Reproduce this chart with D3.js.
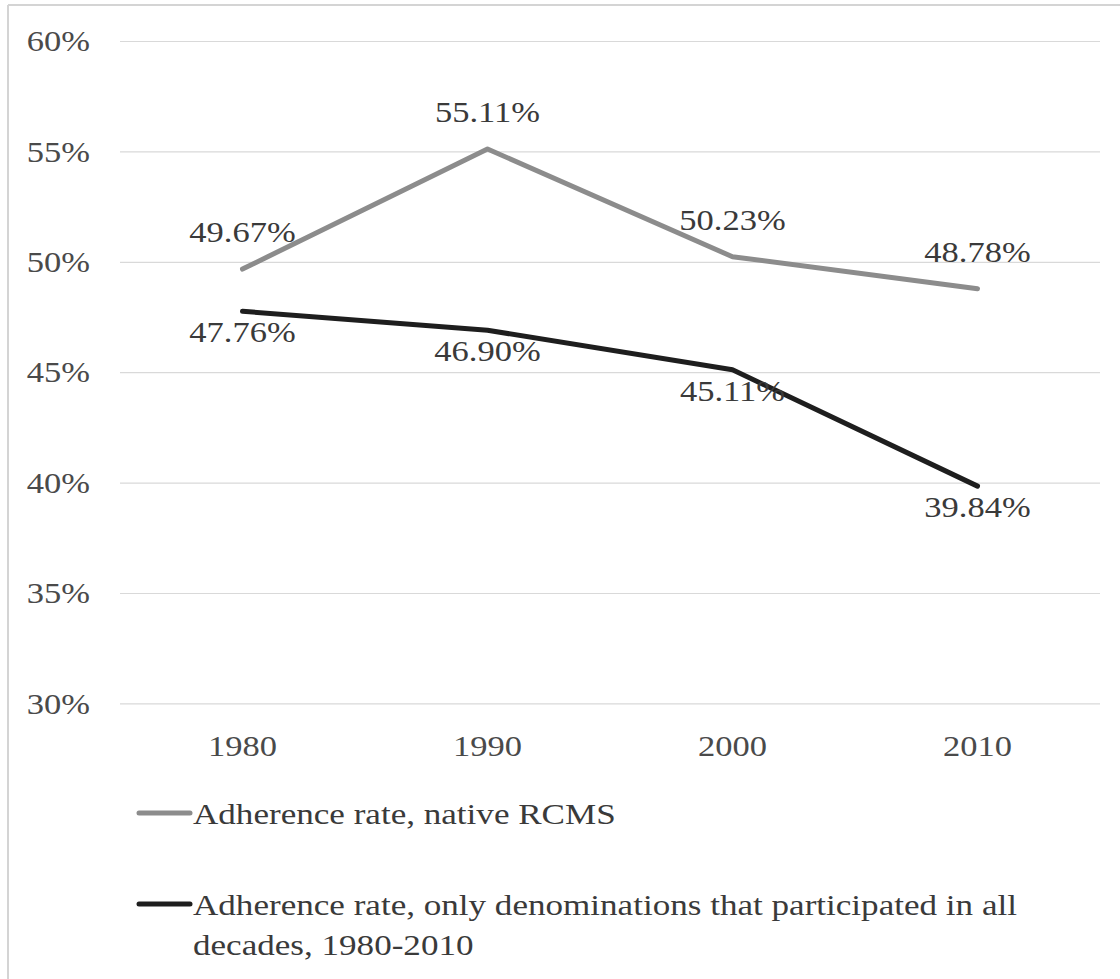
<!DOCTYPE html>
<html>
<head>
<meta charset="utf-8">
<script src="https://cdn.jsdelivr.net/npm/d3@7"></script>
<style>
  body { margin: 0; background: #fff; }
  svg { display: block; }
  svg text { font-family: "Liberation Serif", "Times New Roman", serif; }
</style>
</head>
<body>
<div id="chart"></div>
<script>
// chart data
const years = ['1980', '1990', '2000', '2010'];
const nativeRate = [49.67, 55.11, 50.23, 48.78];
const allDecadesRate = [47.76, 46.90, 45.11, 39.84];
const yTicks = [30, 35, 40, 45, 50, 55, 60];
const seriesNames = [
  'Adherence rate, native RCMS',
  'Adherence rate, only denominations that participated in all decades, 1980-2010'
];

const width = 1120, height = 979;
const plotLeft = 120, plotRight = 1100, plotTop = 41, plotBottom = 703.4;
const stretch = 1.15; // the source image text is a bit wide
const legendStretch = 1.17;

const svg = d3.select('#chart').append('svg')
  .attr('width', width)
  .attr('height', height);

// frame border (left and top)
svg.append('line').attr('x1', 8).attr('x2', 8).attr('y1', 5).attr('y2', height)
  .attr('stroke', '#d4d4d4').attr('stroke-width', 2);
svg.append('line').attr('x1', 8).attr('x2', width).attr('y1', 5).attr('y2', 5)
  .attr('stroke', '#d4d4d4').attr('stroke-width', 2);

const x = d3.scaleBand().domain(years).range([plotLeft, plotRight]);
const y = d3.scaleLinear().domain([30, 60]).range([plotBottom, plotTop]);
const cx = d => x(d) + x.bandwidth() / 2;

// y axis + gridlines
const yAxis = svg.append('g')
  .attr('transform', `translate(${plotLeft},0)`)
  .call(d3.axisLeft(y).tickValues(yTicks).tickSize(-(plotRight - plotLeft)).tickPadding(0).tickFormat(d => d + '%'));
yAxis.select('.domain').remove();
yAxis.selectAll('.tick line').attr('stroke', '#d9d9d9').attr('stroke-width', 1.2);
yAxis.selectAll('.tick text')
  .attr('x', 0)
  .attr('fill', '#4a4a4a')
  .attr('transform', `translate(-30,0) scale(${stretch},1)`)
  .style('font-size', '30px')
  .style('font-family', '"Liberation Serif", serif');

// x axis
const xAxis = svg.append('g')
  .attr('transform', `translate(0,${plotBottom})`)
  .call(d3.axisBottom(x).tickSize(0).tickPadding(31));
xAxis.select('.domain').remove();
xAxis.selectAll('.tick text')
  .attr('fill', '#4a4a4a')
  .attr('transform', `scale(${stretch},1)`)
  .style('font-size', '30px')
  .style('font-family', '"Liberation Serif", serif');

const line = d3.line().x(d => cx(d.year)).y(d => y(d.value));

const series = [
  { name: seriesNames[0], values: nativeRate, color: '#8c8c8c', labelAbove: true },
  { name: seriesNames[1], values: allDecadesRate, color: '#1e1e1e', labelAbove: false }
];

series.forEach(s => {
  const pts = years.map((yr, i) => ({ year: yr, value: s.values[i] }));
  svg.append('path')
    .datum(pts)
    .attr('d', line)
    .attr('fill', 'none')
    .attr('stroke', s.color)
    .attr('stroke-width', 5)
    .attr('stroke-linejoin', 'round')
    .attr('stroke-linecap', 'round');

  svg.selectAll(null)
    .data(pts)
    .enter()
    .append('text')
    .attr('transform', d => `translate(${cx(d.year)},${s.labelAbove ? y(d.value) - 27 : y(d.value) + 31}) scale(${stretch},1)`)
    .attr('text-anchor', 'middle')
    .attr('fill', '#3a3a3a')
    .style('font-size', '30px')
    .text(d => d.value.toFixed(2) + '%');
});

// legend
const legendRows = [
  { y: 813, lines: [seriesNames[0]] },
  { y: 904, lines: ['Adherence rate, only denominations that participated in all', 'decades, 1980-2010'] }
];
legendRows.forEach((row, i) => {
  svg.append('line')
    .attr('x1', 139).attr('x2', 190)
    .attr('y1', row.y).attr('y2', row.y)
    .attr('stroke', series[i].color)
    .attr('stroke-width', 5)
    .attr('stroke-linecap', 'round');
  const t = svg.append('text')
    .attr('transform', `translate(193,${row.y + 11}) scale(${legendStretch},1)`)
    .attr('fill', '#3a3a3a')
    .style('font-size', '30px');
  row.lines.forEach((ln, j) => {
    t.append('tspan').attr('x', 0).attr('dy', j === 0 ? 0 : 40).text(ln);
  });
});
</script>
</body>
</html>
